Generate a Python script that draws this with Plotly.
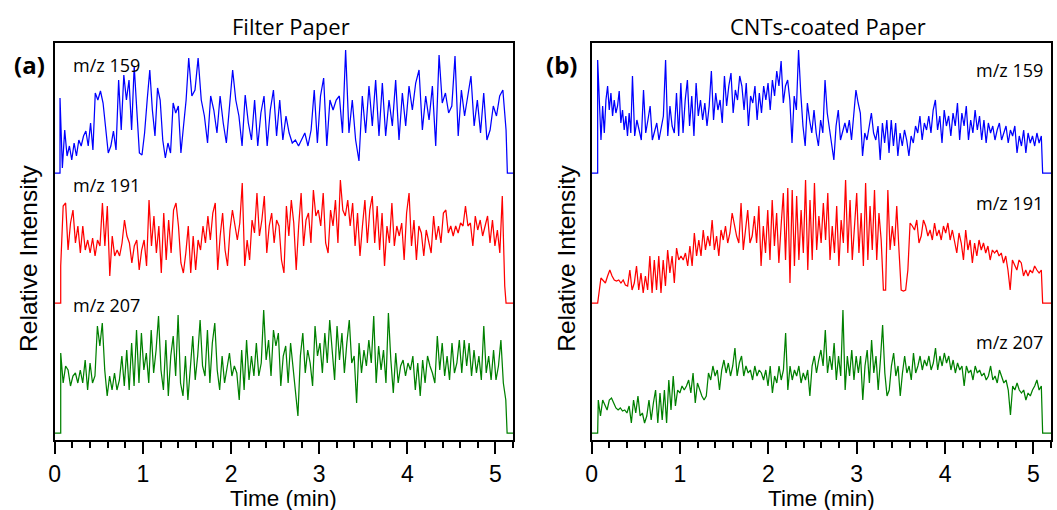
import numpy as np
import plotly.graph_objects as go

# relative intensity readings (pixels above each trace's own baseline)
filter_159 = [75, 5, 43, 17, 27, 13, 30, 17, 33, 27, 37, 42, 27, 50, 23, 80, 73, 82, 70, 47,
              20, 27, 42, 23, 93, 43, 98, 73, 93, 43, 107, 63, 20, 18, 40, 73, 103, 63, 37, 85,
              73, 33, 15, 30, 20, 70, 60, 67, 20, 47, 73, 115, 77, 83, 115, 73, 57, 30, 77, 63,
              40, 77, 50, 30, 63, 103, 73, 57, 27, 78, 50, 33, 73, 27, 60, 77, 27, 63, 83, 37,
              73, 33, 57, 40, 30, 33, 27, 33, 40, 27, 43, 83, 30, 77, 95, 27, 73, 63, 73, 77,
              40, 123, 40, 73, 33, 12, 77, 40, 87, 47, 93, 37, 90, 37, 73, 47, 93, 33, 80, 47,
              87, 63, 90, 103, 43, 77, 53, 87, 27, 118, 70, 80, 60, 67, 117, 37, 83, 57, 77, 97,
              47, 73, 40, 80, 33, 43, 67, 57, 77, 83, 43]
filter_191 = [37, 97, 100, 53, 80, 93, 60, 77, 50, 77, 53, 63, 50, 65, 47, 63, 57, 100, 57, 97,
              27, 67, 47, 53, 47, 60, 83, 67, 60, 40, 57, 63, 33, 53, 63, 37, 103, 57, 87, 50,
              77, 30, 90, 43, 83, 50, 93, 100, 77, 40, 30, 50, 77, 30, 67, 33, 63, 53, 77, 60,
              87, 63, 90, 100, 33, 67, 90, 53, 37, 73, 93, 77, 63, 80, 120, 37, 63, 43, 83, 70,
              110, 67, 83, 107, 50, 77, 90, 60, 83, 77, 43, 30, 97, 67, 103, 80, 33, 77, 110, 57,
              83, 90, 60, 113, 87, 93, 77, 110, 60, 50, 93, 77, 103, 60, 123, 93, 87, 103, 77, 100,
              57, 90, 47, 77, 103, 60, 93, 107, 60, 97, 53, 90, 37, 77, 60, 100, 57, 77, 67, 80,
              43, 90, 110, 57, 83, 43, 77, 70, 47, 73, 63, 50, 87, 63, 77, 60, 90, 93, 70, 77,
              67, 77, 70, 80, 77, 97, 77, 80, 57, 87, 73, 83, 67, 77, 87, 60, 83, 57, 73, 50,
              107, 17]
filter_207 = [80, 50, 67, 63, 47, 57, 60, 50, 63, 50, 73, 43, 70, 50, 57, 107, 87, 110, 63, 37,
              57, 43, 60, 43, 53, 77, 47, 83, 43, 90, 47, 103, 50, 100, 63, 80, 50, 103, 60, 83,
              117, 63, 43, 93, 37, 77, 97, 57, 118, 50, 37, 77, 33, 63, 97, 53, 77, 113, 67, 57,
              103, 50, 90, 110, 63, 43, 77, 50, 67, 80, 57, 67, 60, 33, 83, 43, 93, 53, 77, 57,
              90, 57, 70, 123, 73, 93, 57, 103, 87, 100, 47, 77, 87, 50, 90, 67, 43, 17, 77, 100,
              60, 83, 70, 47, 107, 77, 90, 60, 100, 70, 113, 80, 53, 107, 73, 100, 60, 90, 113, 70,
              77, 30, 90, 60, 83, 67, 93, 70, 117, 50, 87, 63, 83, 50, 120, 73, 40, 80, 50, 67,
              73, 57, 70, 63, 77, 43, 70, 37, 73, 50, 77, 67, 60, 50, 97, 63, 90, 57, 77, 53,
              90, 60, 70, 93, 60, 93, 67, 90, 57, 83, 60, 77, 53, 107, 60, 77, 53, 83, 53, 67,
              93, 50, 33]

cnt_159 = [113, 73, 33, 67, 40, 73, 87, 63, 80, 57, 73, 60, 67, 82, 50, 63, 43, 57, 37, 60,
           40, 97, 37, 53, 43, 33, 83, 40, 53, 67, 33, 43, 50, 33, 47, 57, 113, 37, 67, 47,
           40, 80, 37, 90, 40, 73, 93, 47, 77, 37, 90, 57, 73, 53, 70, 47, 67, 102, 53, 80,
           63, 73, 50, 97, 67, 87, 100, 60, 83, 73, 97, 87, 63, 90, 47, 77, 70, 87, 53, 80,
           60, 87, 73, 90, 63, 93, 77, 102, 87, 112, 70, 87, 93, 73, 30, 77, 63, 123, 80, 47,
           27, 70, 53, 40, 63, 40, 27, 53, 40, 93, 60, 43, 27, 13, 47, 63, 33, 43, 50, 40,
           53, 33, 63, 83, 70, 60, 17, 40, 33, 47, 60, 40, 33, 47, 13, 50, 30, 53, 20, 53,
           27, 50, 17, 40, 27, 43, 33, 17, 37, 30, 47, 40, 57, 33, 50, 43, 57, 40, 63, 73,
           43, 57, 30, 63, 47, 57, 37, 60, 47, 70, 33, 60, 47, 67, 33, 53, 40, 63, 43, 57,
           33, 53, 30, 50, 40, 47, 33, 43, 50, 33, 40, 47, 30, 43, 37, 47, 20, 37, 27, 43,
           20, 40, 30, 37, 27, 40, 30, 37]
cnt_191 = [25, 23, 20, 27, 33, 27, 23, 22, 23, 20, 23, 18, 17, 33, 13, 20, 37, 13, 30, 10,
           27, 13, 47, 10, 43, 13, 47, 10, 43, 17, 53, 30, 47, 20, 55, 43, 47, 43, 50, 37,
           57, 37, 70, 47, 63, 47, 73, 53, 67, 57, 83, 53, 67, 47, 73, 63, 77, 60, 70, 90,
           77, 67, 60, 100, 53, 77, 93, 60, 67, 87, 60, 97, 37, 77, 50, 93, 43, 103, 57, 90,
           40, 77, 110, 43, 115, 20, 113, 37, 107, 43, 93, 50, 123, 33, 103, 43, 120, 53, 87, 60,
           100, 63, 110, 43, 77, 50, 97, 37, 83, 60, 123, 50, 103, 43, 77, 110, 50, 90, 37, 120,
           43, 97, 53, 113, 43, 90, 63, 13, 13, 113, 53, 77, 57, 97, 53, 13, 12, 13, 33, 80,
           77, 73, 83, 60, 67, 83, 77, 67, 73, 63, 80, 67, 73, 63, 77, 70, 80, 63, 73, 63,
           50, 70, 60, 43, 73, 53, 63, 40, 60, 47, 63, 53, 60, 50, 57, 43, 53, 50, 53, 47,
           50, 40, 47, 33, 13, 43, 37, 33, 43, 40, 27, 33, 27, 33, 30, 37, 33, 30, 33]
cnt_207 = [33, 17, 33, 27, 23, 33, 35, 30, 25, 23, 25, 22, 23, 20, 27, 10, 33, 20, 37, 17,
           20, 10, 17, 33, 13, 30, 43, 10, 40, 13, 43, 10, 53, 23, 57, 27, 43, 40, 47, 43,
           47, 53, 40, 60, 30, 50, 43, 37, 33, 37, 60, 53, 67, 57, 63, 43, 63, 73, 60, 70,
           57, 67, 85, 57, 70, 77, 57, 67, 60, 63, 53, 67, 57, 63, 60, 53, 63, 47, 67, 40,
           57, 50, 67, 53, 63, 100, 43, 67, 53, 63, 57, 67, 50, 60, 53, 63, 37, 67, 77, 60,
           73, 83, 67, 103, 60, 77, 63, 90, 53, 77, 57, 123, 43, 77, 57, 83, 53, 77, 60, 77,
           33, 67, 83, 50, 93, 60, 77, 43, 73, 108, 60, 37, 43, 67, 80, 57, 67, 37, 60, 77,
           60, 67, 53, 80, 60, 67, 77, 63, 73, 67, 77, 63, 70, 85, 63, 77, 67, 80, 70, 77,
           63, 73, 60, 70, 63, 67, 47, 67, 60, 63, 53, 67, 60, 63, 57, 60, 53, 57, 67, 53,
           57, 50, 63, 57, 50, 53, 43, 18, 47, 43, 50, 43, 40, 43, 33, 40, 37, 43, 47, 53,
           43, 47]

# time (min) of some readings, sample index -> time
filter_159_idx, filter_159_t = [0, 15, 51, 101, 129, 150], [0.06, 0.46, 1.52, 3.30, 4.36, 5.12]
filter_191_idx, filter_191_t = [0, 181], [0.068, 5.105]
filter_207_idx, filter_207_t = [0, 182], [0.068, 5.117]
cnt_159_idx, cnt_159_t = [0, 21, 36, 97, 207], [0.068, 0.462, 0.837, 2.342, 5.09]
cnt_191_idx, cnt_191_t = [0, 198], [0.105, 5.09]
cnt_207_idx, cnt_207_t = [0, 201], [0.075, 5.09]

masses = ["m/z 159", "m/z 191", "m/z 207"]
colors = ["#0000ff", "#ff0000", "#008000"]
offsets = [267, 137, 7]

W, H = 1057, 510
px = lambda x: x / W
py = lambda y: 1 - y / H

fig = go.Figure()


def add_trace(vals, idx, tt, start, end, color, offset, xa, ya):
    t = np.interp(np.arange(len(vals)), idx, tt)
    x = [0, start] + list(t) + [end, 5.2]
    y = [offset, offset] + [v + offset for v in vals] + [offset, offset]
    fig.add_trace(go.Scatter(x=x, y=y, mode="lines", line=dict(color=color, width=1.25),
                             xaxis=xa, yaxis=ya, showlegend=False, hoverinfo="skip"))


left = [(filter_159, filter_159_idx, filter_159_t), (filter_191, filter_191_idx, filter_191_t),
        (filter_207, filter_207_idx, filter_207_t)]
right = [(cnt_159, cnt_159_idx, cnt_159_t), (cnt_191, cnt_191_idx, cnt_191_t),
         (cnt_207, cnt_207_idx, cnt_207_t)]

for i, (v, ix, tt) in enumerate(left):
    add_trace(v, ix, tt, tt[0], tt[-1] + 0.015, colors[i], offsets[i], "x", "y")
for i, (v, ix, tt) in enumerate(right):
    add_trace(v, ix, tt, 0.068, tt[-1] + 0.015, colors[i], offsets[i], "x2", "y2")

xcommon = dict(range=[0, 5.2], showline=True, linecolor="black", linewidth=2, mirror=True,
               ticks="outside", ticklen=12, tickwidth=2, tickcolor="black",
               tickvals=[0, 1, 2, 3, 4, 5], ticklabelstandoff=0,
               tickfont=dict(family="Liberation Sans", size=23, color="black"),
               minor=dict(ticks="outside", ticklen=6, tickwidth=1.5, tickcolor="black",
                          dtick=0.2, tick0=0),
               showgrid=False, zeroline=False)
# faint ticks along the top edge
xtop = dict(range=[0, 5.2], side="top", showline=False, showticklabels=False,
            ticks="outside", ticklen=4, tickwidth=1, tickcolor="#aaaaaa", dtick=0.2, tick0=0,
            showgrid=False, zeroline=False)
ycommon = dict(range=[0, 397], showline=True, linecolor="black", linewidth=2, mirror=True,
               showticklabels=False, ticks="", showgrid=False, zeroline=False)

ydom = [py(440), py(43)]
fig.update_layout(
    width=W, height=H, margin=dict(l=0, r=0, t=0, b=0),
    plot_bgcolor="white", paper_bgcolor="white", showlegend=False,
    xaxis=dict(domain=[px(49), px(510)], anchor="y", **xcommon),
    yaxis=dict(domain=ydom, anchor="x", **ycommon),
    xaxis2=dict(domain=[px(589), px(1051)], anchor="y2", **xcommon),
    yaxis2=dict(domain=ydom, anchor="x2", **ycommon),
    xaxis3=dict(overlaying="x", anchor="y", **xtop),
    xaxis4=dict(overlaying="x2", anchor="y2", **xtop),
)

label_font = dict(family="Open Sans", size=18, color="black")
axis_font = dict(family="Liberation Sans", size=22.5, color="black")
ytitle_font = dict(family="Liberation Sans", size=24.5, color="black")
title_font = dict(family="Open Sans", size=22, color="black")
letter_font = dict(family="Open Sans", size=24, color="black")
ann = []
# panel titles
ann.append(dict(text="Filter Paper", x=px(287), y=py(26), font=title_font))
ann.append(dict(text="CNTs-coated Paper", x=px(827), y=py(26), font=title_font))
# panel letters
ann.append(dict(text="<b>(a)</b>", x=px(24), y=py(64), font=letter_font))
ann.append(dict(text="<b>(b)</b>", x=px(559), y=py(64), font=letter_font))
# axis titles
for cx in [279, 820]:
    ann.append(dict(text="Time (min)", x=px(cx), y=py(498), font=axis_font))
for cx in [22, 563]:
    ann.append(dict(text="Relative Intensity", x=px(cx), y=py(258), textangle=-90, font=ytitle_font))
# m/z labels
for lab, cy in zip(masses, [65, 185, 305]):
    ann.append(dict(text=lab, x=px(65), y=py(cy), xanchor="left", font=label_font))
for lab, cy in zip(masses, [70, 203, 342]):
    ann.append(dict(text=lab, x=px(1045), y=py(cy), xanchor="right", font=label_font))

for a in ann:
    a.setdefault("xanchor", "center")
    a.update(xref="paper", yref="paper", yanchor="middle", showarrow=False)
fig.update_layout(annotations=ann)

fig.write_html("out.html", config={"displayModeBar": False},
               post_script="document.body.style.margin='0';")
